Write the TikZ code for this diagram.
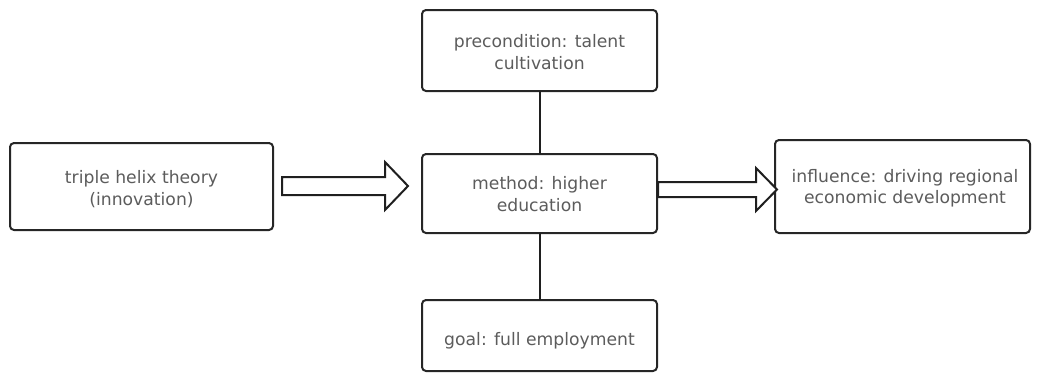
\documentclass[tikz,border=0pt]{standalone}
\usepackage{fontspec}
\setmainfont{DejaVu Sans}
\begin{document}
\begin{tikzpicture}[x=1pt,y=-1pt,
  box/.style={draw=black!85,line width=2pt,rounded corners=4pt,fill=white,inner sep=0pt},
  lbl/.style={text=black!64,font=\fontsize{17.2}{21.5}\selectfont,align=center},
  link/.style={draw=black!88,line width=2pt},
  blockarrow/.style={draw=black!88,line width=2pt,fill=white,line join=miter}]
\useasboundingbox (0,0) rectangle (1039,376);
\draw[box] (10,143) rectangle (273,230);
\node[lbl] (tri) at (141.5,189) {triple helix theory\\(innovation)};
\draw[box] (422,10) rectangle (657,91);
\node[lbl] (pre) at (539.5,52) {precondition: talent\\cultivation};
\draw[box] (422,154) rectangle (657,233);
\node[lbl] (met) at (539.5,194) {method: higher\\education};
\draw[box] (422,300) rectangle (657,371);
\node[lbl] (goal) at (539.5,341) {goal: full employment};
\draw[box] (775,140) rectangle (1030,233);
\node[lbl] (inf) at (905,188) {influence: driving regional\\economic development};
\coordinate (preb) at (539.5,91);
\coordinate (mett) at (539.5,154);
\coordinate (metb) at (539.5,233);
\coordinate (goalt) at (539.5,300);
\draw[link] (preb) -- (mett);
\draw[link] (metb) -- (goalt);
\draw[blockarrow] (282,177) -- (385,177) -- (385,162) -- (408,186) -- (385,210) -- (385,195) -- (282,195) -- cycle;
\draw[blockarrow] (658,182) -- (756,182) -- (756,168) -- (777,189.5) -- (756,211) -- (756,197) -- (658,197) -- cycle;
\end{tikzpicture}
\end{document}
